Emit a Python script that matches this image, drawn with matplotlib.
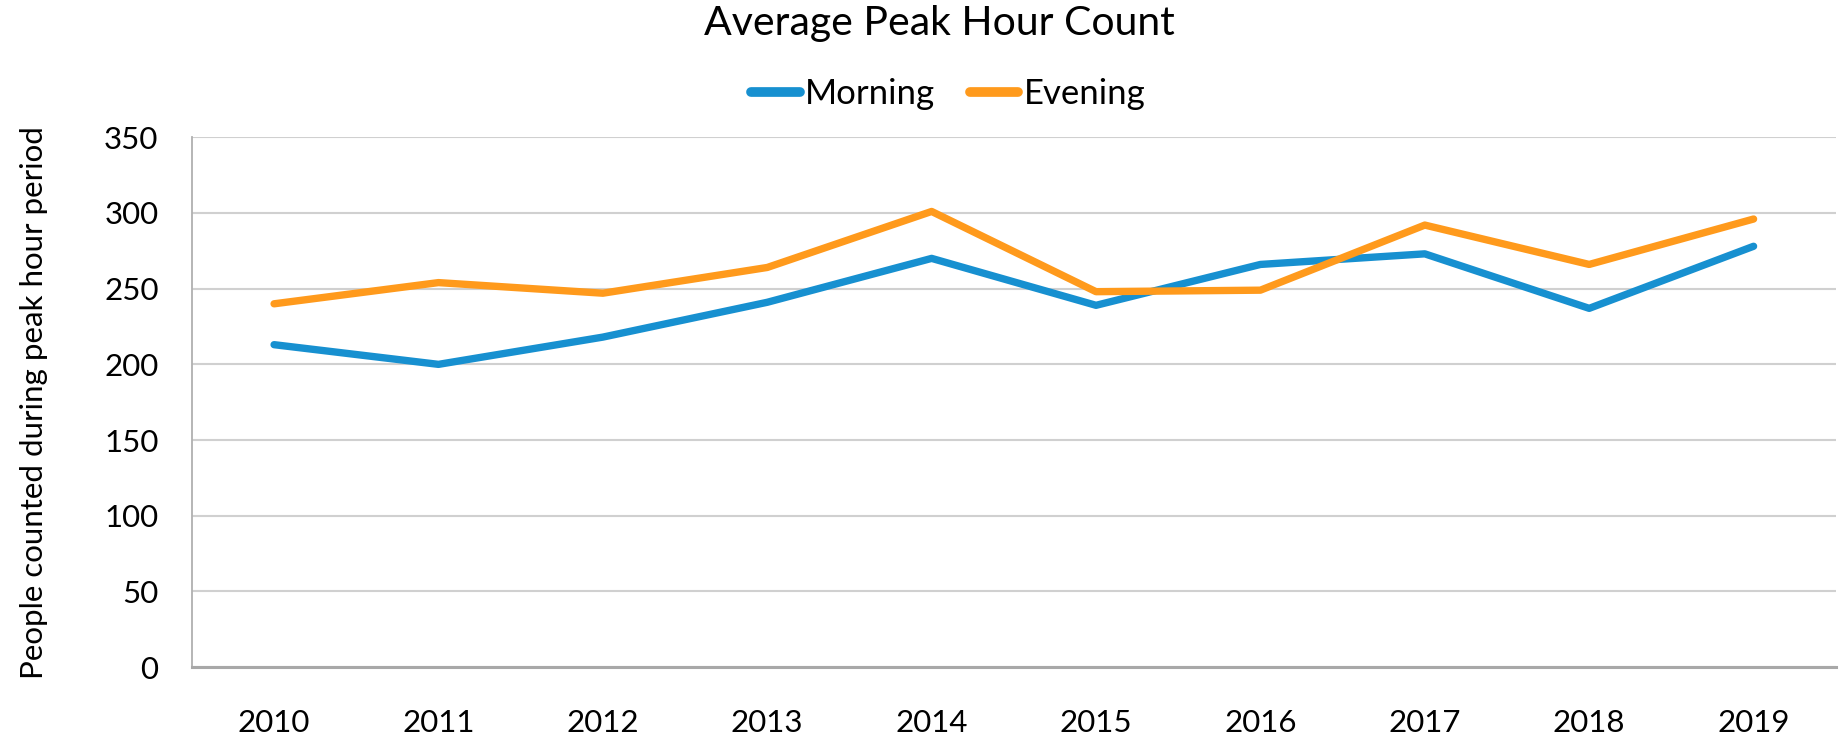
import matplotlib.pyplot as plt

years = ['2010', '2011', '2012', '2013', '2014', '2015', '2016', '2017', '2018', '2019']
morning = [213, 200, 218, 241, 270, 239, 266, 273, 237, 278]
evening = [240, 254, 247, 264, 301, 248, 249, 292, 266, 296]

plt.rcParams['font.family'] = ['Lato', 'DejaVu Sans']

fig = plt.figure(figsize=(18.45, 7.38), dpi=100)
ax = fig.add_axes([0.104, 0.096, 0.891, 0.718])

x = list(range(len(years)))
ax.plot(x, morning, color='#1790D0', lw=5.3, label='Morning', solid_capstyle='round')
ax.plot(x, evening, color='#FF9A1C', lw=5.3, label='Evening', solid_capstyle='round')

ax.set_xlim(-0.5, len(years) - 0.5)
ax.set_ylim(0, 350)
ax.set_yticks(range(0, 351, 50))
ax.set_xticks(x)
ax.set_xticklabels(years)
ax.tick_params(axis='both', length=0, labelsize=22.5, colors='black')
ax.tick_params(axis='x', pad=30)
ax.tick_params(axis='y', pad=24)

ax.grid(axis='y', color='#D0D0D0', lw=1.5)
ax.set_axisbelow(True)
for s in ['top', 'right']:
    ax.spines[s].set_visible(False)
ax.spines['left'].set_color('#B0B0B0')
ax.spines['left'].set_linewidth(1.3)
ax.spines['bottom'].set_color('#A8A8A8')
ax.spines['bottom'].set_linewidth(2.2)

ax.set_ylabel('People counted during peak hour period', fontsize=22.5, labelpad=40)

fig.text(0.509, 0.968, 'Average Peak Hour Count', ha='center', va='center', fontsize=29.5)
leg = fig.legend(loc='center', bbox_to_anchor=(0.514, 0.873), ncol=2, frameon=False, fontsize=25,
                 handlelength=1.4, handletextpad=0.15, columnspacing=1.0)
for h in leg.get_lines():
    h.set_linewidth(7)

fig.savefig('out.png', dpi=100)
